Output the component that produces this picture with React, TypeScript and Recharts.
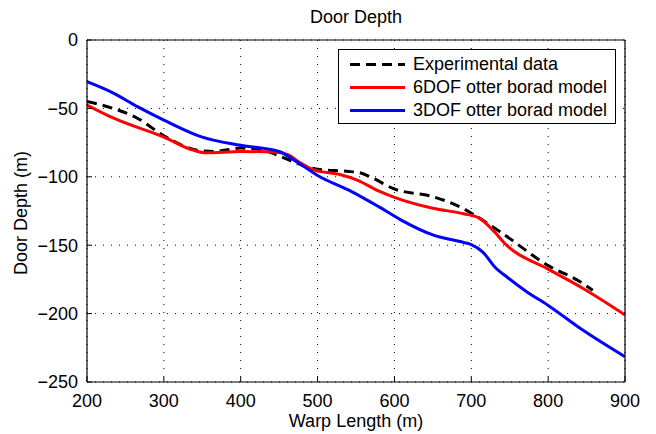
import { LineChart, Line, XAxis, YAxis, CartesianGrid, Legend, Label } from 'recharts'

const FONT = '"Liberation Sans", Arial, Helvetica, sans-serif'

const warpTicks = [200, 300, 400, 500, 600, 700, 800, 900]
const depthTicks = [-250, -200, -150, -100, -50, 0]

// measured door depth vs. warp length
const expWarp = [200, 234, 265, 300, 343, 365, 400, 435, 451, 473, 500, 538, 555, 572, 598, 650, 689, 707, 737, 802, 841, 858]
const expDepth = [-45, -50, -57, -70, -80.5, -81.5, -79, -81.5, -85, -90, -94.5, -96, -97, -101, -108.5, -114.5, -123, -129, -140, -165.5, -176.5, -183]

// 6DOF otter board simulation
const sixWarp = [200, 234, 300, 338, 355, 400, 450, 462, 478, 495, 530, 550, 580, 600, 650, 690, 710, 728, 746, 800, 845, 900]
const sixDepth = [-47.5, -57, -71, -80.5, -82.5, -81.5, -82.3, -84, -90, -95, -98.5, -102, -110.5, -115, -123, -127, -130, -139, -150, -167.5, -181.5, -201]

// 3DOF otter board simulation
const threeWarp = [200, 235, 265, 300, 350, 400, 450, 470, 500, 545, 580, 610, 650, 690, 700, 715, 730, 748, 772, 800, 845, 900]
const threeDepth = [-30.5, -39, -48.5, -58.5, -71, -77, -81.5, -88, -99, -111, -122, -132, -142.5, -148, -149.5, -155, -165.5, -174, -184, -194, -212, -231.5]

const seriesNames = ['Experimental data', '6DOF otter borad model', '3DOF otter borad model']

const toPoints = (xs: number[], ys: number[]) => xs.map((x, i) => ({ warp: x, depth: ys[i] }))

const series = [
  { name: seriesNames[0], data: toPoints(expWarp, expDepth), color: '#000000', dash: '10 6' },
  { name: seriesNames[1], data: toPoints(sixWarp, sixDepth), color: '#ff0000', dash: undefined },
  { name: seriesNames[2], data: toPoints(threeWarp, threeDepth), color: '#0000ff', dash: undefined },
]

const minus = (v: number) => (v < 0 ? '\u2212' + Math.abs(v) : String(v))

const tickStyle = { fill: '#000', fontSize: 18, fontFamily: FONT }

function LegendBox() {
  return (
    <div
      style={{
        width: 278,
        height: 75,
        boxSizing: 'border-box',
        border: '1px solid #000',
        background: '#fff',
        paddingTop: 3,
        fontFamily: FONT,
        fontSize: 18,
        color: '#000',
      }}
    >
      {series.map((s) => (
        <div key={s.name} style={{ height: 23, display: 'flex', alignItems: 'center' }}>
          <svg width={55} height={23} style={{ marginLeft: 11 }}>
            <line x1={0} x2={55} y1={11.5} y2={11.5} stroke={s.color} strokeWidth={3} strokeDasharray={s.dash} />
          </svg>
          <span style={{ marginLeft: 8, lineHeight: '23px', whiteSpace: 'nowrap' }}>{s.name}</span>
        </div>
      ))}
    </div>
  )
}

function App() {
  return (
    <div style={{ position: 'absolute', left: 0, top: 0, width: 656, height: 434, background: '#fff' }}>
      <div
        style={{
          position: 'absolute',
          left: 87,
          width: 538,
          top: 6,
          textAlign: 'center',
          fontFamily: FONT,
          fontSize: 18,
          lineHeight: '22px',
          color: '#000',
        }}
      >
        Door Depth
      </div>
      <LineChart width={656} height={434} margin={{ top: 0, right: 0, bottom: 0, left: 0 }}>
        <CartesianGrid stroke="#000" strokeDasharray="1 7" strokeWidth={1} />
        <XAxis
          dataKey="warp"
          type="number"
          domain={[200, 900]}
          ticks={warpTicks}
          allowDataOverflow
          height={52}
          tickSize={-5}
          tickMargin={17}
          tick={tickStyle}
          stroke="#000"
          tickLine={{ stroke: '#000' }}
          axisLine={{ stroke: '#000', strokeWidth: 1.2 }}
        >
          <Label
            value="Warp Length (m)"
            position="insideBottom"
            offset={7}
            style={{ fill: '#000', fontSize: 18, fontFamily: FONT }}
          />
        </XAxis>
        <XAxis
          xAxisId="top"
          orientation="top"
          dataKey="warp"
          type="number"
          domain={[200, 900]}
          ticks={warpTicks}
          height={40}
          tickSize={-5}
          tick={false}
          tickLine={{ stroke: '#000' }}
          axisLine={{ stroke: '#000', strokeWidth: 1.2 }}
        />
        <YAxis
          dataKey="depth"
          type="number"
          domain={[-250, 0]}
          ticks={depthTicks}
          allowDataOverflow
          width={87}
          tickSize={-5}
          tickMargin={14}
          tick={tickStyle}
          tickFormatter={minus}
          tickLine={{ stroke: '#000' }}
          axisLine={{ stroke: '#000', strokeWidth: 1.2 }}
        >
          <Label
            value="Door Depth (m)"
            content={() => (
              <text
                transform="translate(26.5,213) rotate(-90)"
                textAnchor="middle"
                fill="#000"
                fontSize={18}
                fontFamily={FONT}
              >
                Door Depth (m)
              </text>
            )}
          />
        </YAxis>
        <YAxis
          yAxisId="right"
          orientation="right"
          type="number"
          domain={[-250, 0]}
          ticks={depthTicks}
          width={31}
          tickSize={-5}
          tick={false}
          tickLine={{ stroke: '#000' }}
          axisLine={{ stroke: '#000', strokeWidth: 1.2 }}
        />
        {series.map((s) => (
          <Line
            key={s.name}
            data={s.data}
            dataKey="depth"
            name={s.name}
            type="monotone"
            stroke={s.color}
            strokeWidth={3}
            strokeDasharray={s.dash}
            dot={false}
            activeDot={false}
            isAnimationActive={false}
          />
        ))}
        <Legend
          content={() => <LegendBox />}
          layout="vertical"
          align="center"
          verticalAlign="middle"
          wrapperStyle={{ left: 338, top: 49, width: 278 }}
        />
      </LineChart>
    </div>
  )
}

export default App
